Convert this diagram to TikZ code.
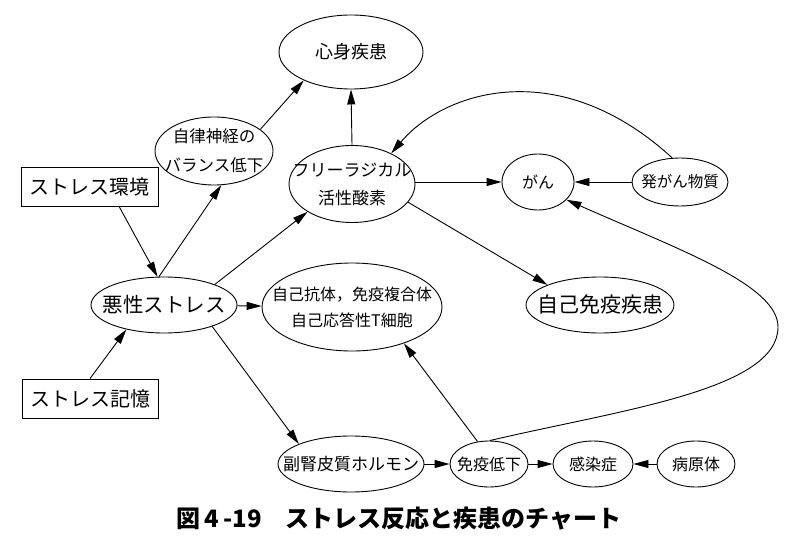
\documentclass[tikz,border=0pt]{standalone}
\usepackage{fontspec}
\setmainfont{Noto Sans CJK JP}
\usetikzlibrary{shapes.geometric,arrows.meta}
\begin{document}
\begin{tikzpicture}[x=1pt,y=1pt,
  ell/.style={draw,ellipse,inner xsep=-45pt,inner ysep=-18pt,line width=0.9pt,align=center},
  boxn/.style={draw,rectangle,inner sep=0pt,line width=0.9pt},
  arr/.style={line width=0.9pt,-{Triangle[length=15pt,width=8pt]}},
  t16/.style={font=\fontsize{16}{26}\selectfont},
  t17/.style={font=\fontsize{17}{28}\selectfont}]
\useasboundingbox (0,0) rectangle (800,-548);
% nodes
\node[ell,minimum width=144pt,minimum height=74pt,font=\fontsize{18}{22}\selectfont] (sk) at (351,-52) {心身疾患};
\node[ell,minimum width=118pt,minimum height=68pt,font=\fontsize{16.5}{29}\selectfont] (jr) at (214,-151) {自律神経の\\バランス低下};
\node[boxn,minimum width=137pt,minimum height=39pt,font=\fontsize{20}{24}\selectfont] (env) at (89.5,-186.5) {ストレス環境};
\node[boxn,minimum width=136pt,minimum height=39pt,font=\fontsize{20}{24}\selectfont] (mem) at (90,-398.5) {ストレス記憶};
\node[ell,minimum width=126pt,minimum height=77pt,font=\fontsize{17}{28}\selectfont] (fr) at (352,-184) {フリーラジカル\\活性酸素};
\node[ell,minimum width=72pt,minimum height=56pt,t16] (gan) at (538,-182) {がん};
\node[ell,minimum width=96pt,minimum height=48pt,font=\fontsize{15.5}{20}\selectfont] (hg) at (680,-182) {発がん物質};
\node[ell,minimum width=146pt,minimum height=56pt,font=\fontsize{20.5}{24}\selectfont] (ak) at (164,-305) {悪性ストレス};
\node[ell,minimum width=180pt,minimum height=88pt,font=\fontsize{16}{26}\selectfont] (ab) at (352,-307) {自己抗体，免疫複合体\\自己応答性T細胞};
\node[ell,minimum width=148pt,minimum height=56pt,font=\fontsize{21}{24}\selectfont] (ji) at (600,-305) {自己免疫疾患};
\node[ell,minimum width=146pt,minimum height=56pt,t17] (fuku) at (351,-464) {副腎皮質ホルモン};
\node[ell,minimum width=78pt,minimum height=46pt,t16] (men) at (489,-464) {免疫低下};
\node[ell,minimum width=80pt,minimum height=46pt,t16] (kan) at (593,-464) {感染症};
\node[ell,minimum width=78pt,minimum height=46pt,t16] (byo) at (696,-464) {病原体};
\node[font=\fontsize{24}{28}\selectfont\bfseries] (cap) at (399,-519) {図\,4\,-19\quad ストレス反応と疾患のチャート};
% connectors
\draw[arr] (env.-34) -- (ak.103);
\draw[arr] (mem.north) -- (ak.213);
\draw[arr] (ak.100) -- (jr.-78);
\draw[arr] (jr.25) -- (sk.211);
\draw[arr] (ak.22) -- (fr.212);
\draw[arr] (ak) -- (ab);
\draw[arr] (ak.-24) -- (fuku.159);
\draw[arr] (fr.north) -- (sk.south);
\draw[arr] (fr.east |- gan.west) -- (gan.west);
\draw[arr] (fr.-18) -- (ji.159);
\draw[arr] (hg.108) .. controls (560,-55) and (445,-90) .. (fr.38);
\draw[arr] (hg) -- (gan);
\draw[arr] (men.88) .. controls (620,-410) and (778,-390) .. (778,-327) .. controls (778,-285) and (680,-250) .. (gan.-32);
\draw[arr] (men.117) -- (ab.-35);
\draw[arr] (fuku) -- (men);
\draw[arr] (men) -- (kan);
\draw[arr] (byo) -- (kan);
\end{tikzpicture}
\end{document}
